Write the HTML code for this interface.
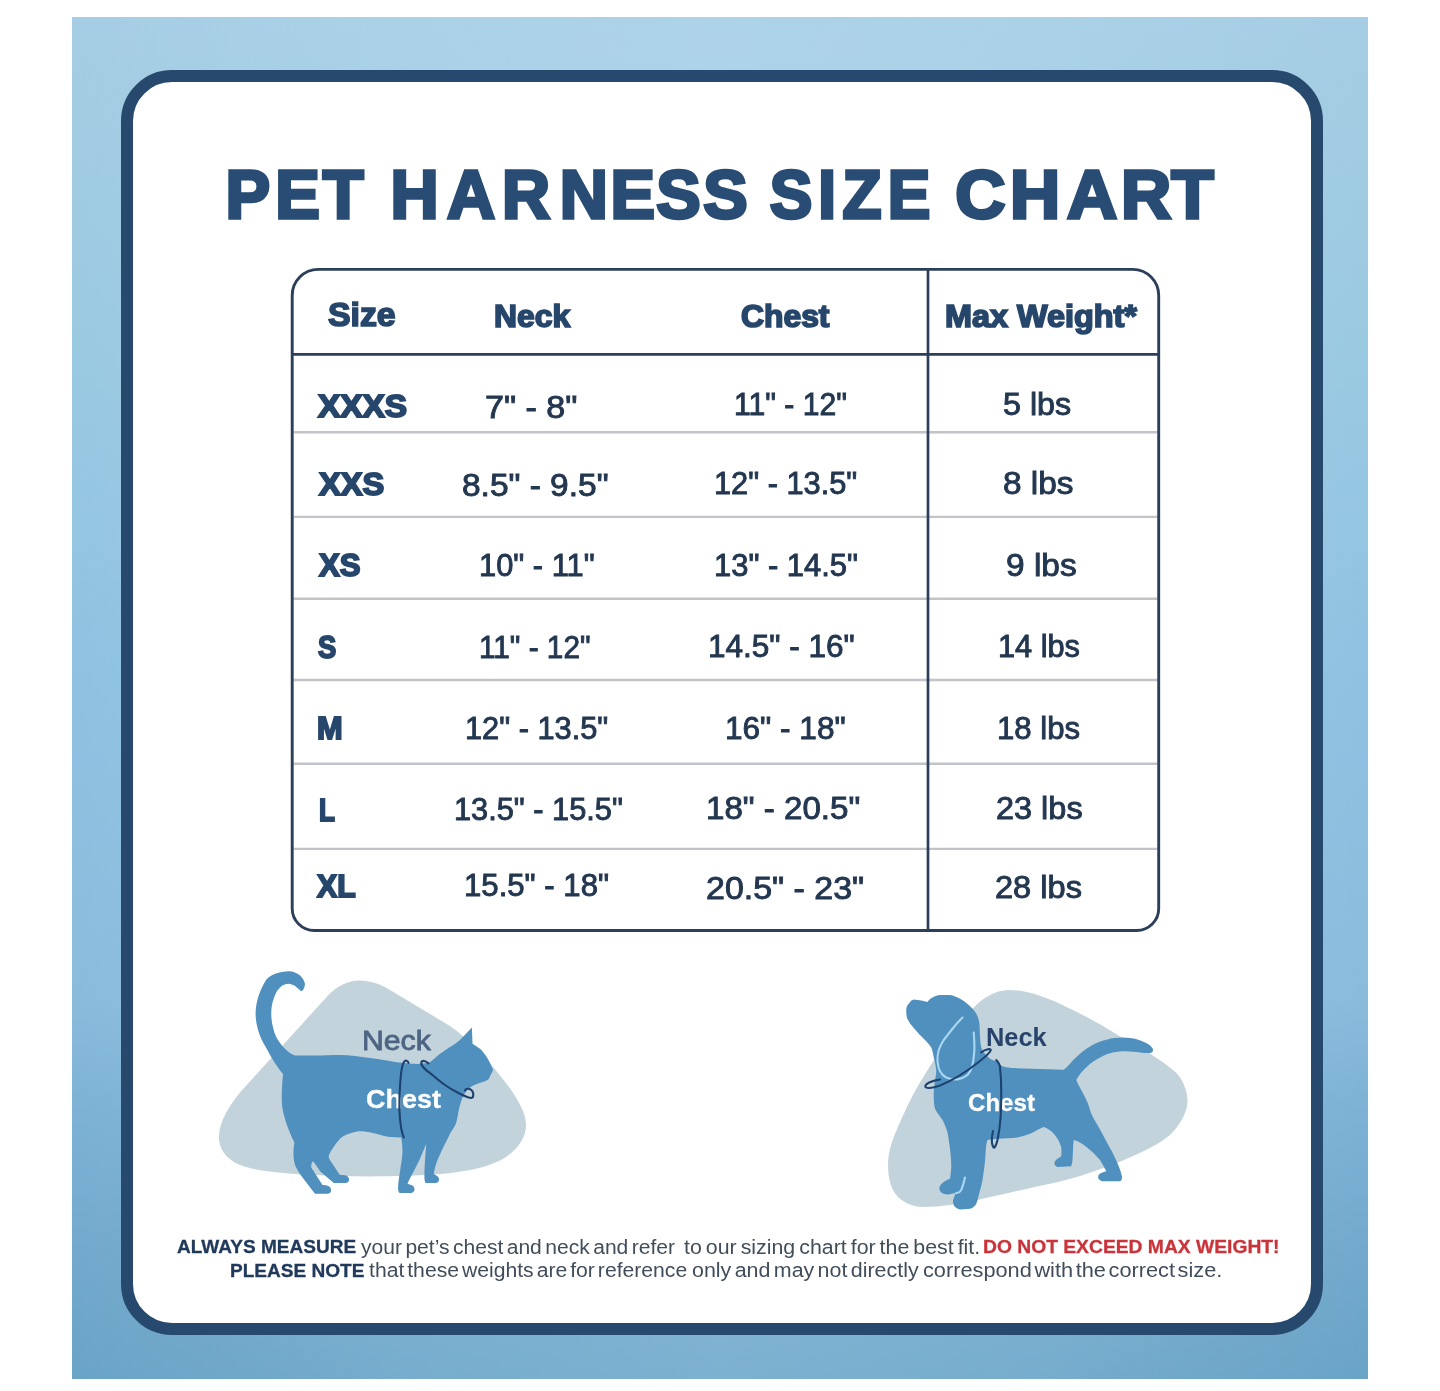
<!DOCTYPE html>
<html lang="en">
<head>
<meta charset="utf-8">
<title>Pet Harness Size Chart</title>
<style>
  html, body { margin: 0; padding: 0; background: #ffffff; }
  body { width: 1440px; height: 1391px; position: relative; overflow: hidden;
         font-family: "Liberation Sans", sans-serif; }
  .poster { position: absolute; left: 72px; top: 17px; width: 1296px; height: 1362px;
            background: linear-gradient(180deg, rgb(165,205,227) 0%, rgb(156,202,226) 20.8%, rgb(143,194,225) 48.7%, rgb(138,187,221) 72.2%, rgb(126,179,214) 79.5%, rgb(115,169,204) 90.5%, rgb(105,163,198) 100%); }
  .poster::after { content: ""; position: absolute; inset: 0;
            background: linear-gradient(90deg, rgba(215,240,255,0) 0%, rgba(215,240,255,0.12) 25%, rgba(215,240,255,0.18) 50%, rgba(215,240,255,0.12) 75%, rgba(215,240,255,0) 100%); }
  .card { position: absolute; left: 120.5px; top: 70px; width: 1202.5px; height: 1265px; box-sizing: border-box;
          border: 12px solid #27496d; border-radius: 51px; background: #ffffff; }
  .t { position: absolute; white-space: pre; transform-origin: 0 0; display: block; margin: 0; padding: 0; }
  h1 { margin: 0; font-size: inherit; font-weight: inherit; }
  svg.frame { position: absolute; left: 0; top: 0; }
  svg.art { position: absolute; left: 0; top: 0; }
</style>
</head>
<body>
<div class="poster"></div>
<main class="card"></main>

<h1>
    <svg class="art" width="1440" height="1391" viewBox="0 0 1440 1391">
    <g font-family="'Liberation Sans', sans-serif" font-weight="700" font-size="68.95" fill="#284c73" stroke="#284c73" stroke-width="3.4" stroke-linejoin="miter">
      <text transform="scale(0.9701,1)" x="232.56 283.72 332.69" y="218.3">PET</text>
      <text transform="scale(0.9658,1)" x="404.41 462.91 519.8 579.66 632.23 679.53 728.07" y="218.3">HARNESS</text>
      <text transform="scale(0.9256,1)" x="831.52 883.89 910.12 959.15" y="218.3">SIZE</text>
      <text transform="scale(1.0069,1)" x="948.62 1003.16 1059.65 1113.28 1163.11" y="218.3">CHART</text>
    </g>
  </svg>
</h1>

<section>
  <svg class="frame" width="1440" height="1391" viewBox="0 0 1440 1391">
   <g stroke="#c2c4c9" stroke-width="2.4">
    <line x1="293.4" x2="1157.5" y1="432.2" y2="432.2"/>
    <line x1="293.4" x2="1157.5" y1="516.9" y2="516.9"/>
    <line x1="293.4" x2="1157.5" y1="598.7" y2="598.7"/>
    <line x1="293.4" x2="1157.5" y1="680.0" y2="680.0"/>
    <line x1="293.4" x2="1157.5" y1="763.8" y2="763.8"/>
    <line x1="293.4" x2="1157.5" y1="848.9" y2="848.9"/>
   </g>
   <g stroke="#2c3f5a" fill="none">
    <line x1="292.2" x2="1158.7" y1="354.4" y2="354.4" stroke-width="2.8"/>
    <line x1="928" x2="928" y1="269.4" y2="930.5" stroke-width="2.7"/>
    <path d="M 318.2,269.4 H 1132.7 A 26,26 0 0 1 1158.7,295.4 V 908.5 A 22,22 0 0 1 1136.7,930.5 H 314.2 A 22,22 0 0 1 292.2,908.5 V 295.4 A 26,26 0 0 1 318.2,269.4 Z" stroke-width="2.9"/>
   </g>
  </svg>
  <div class="thead">
      <span class="t" style="left:328.02px;top:298.23px;font-size:33.53px;line-height:33.53px;font-weight:700;color:#26466b;-webkit-text-stroke:1.7px #26466b;transform:scaleX(1.0086)">Size</span>
      <span class="t" style="left:493.86px;top:301.57px;font-size:30.77px;line-height:30.77px;font-weight:700;color:#26466b;-webkit-text-stroke:1.7px #26466b;transform:scaleX(1.0344)">Neck</span>
      <span class="t" style="left:740.86px;top:301.2px;font-size:31.21px;line-height:31.21px;font-weight:700;color:#26466b;-webkit-text-stroke:1.7px #26466b;transform:scaleX(1.0202)">Chest</span>
      <span class="t" style="left:944.83px;top:301.57px;font-size:30.77px;line-height:30.77px;font-weight:700;color:#26466b;-webkit-text-stroke:1.7px #26466b;transform:scaleX(1.0527)">Max Weight*</span>
  </div>
  <div class="tbody">
    <div class="row">
      <span class="t" style="left:318.45px;top:390.66px;font-size:30.65px;line-height:30.65px;font-weight:700;color:#26466b;-webkit-text-stroke:1.9px #26466b;transform:scaleX(1.0904)">XXXS</span>
      <span class="t" style="left:484.55px;top:391.64px;font-size:31.09px;line-height:31.09px;color:#233750;-webkit-text-stroke:0.9px #233750;transform:scaleX(1.0969)">7&quot; - 8&quot;</span>
      <span class="t" style="left:733.57px;top:389.34px;font-size:31.09px;line-height:31.09px;color:#233750;-webkit-text-stroke:0.9px #233750;transform:scaleX(0.9692)">11&quot; - 12&quot;</span>
      <span class="t" style="left:1003.44px;top:389.34px;font-size:31.09px;line-height:31.09px;color:#233750;-webkit-text-stroke:0.9px #233750;transform:scaleX(1.0372)">5 lbs</span>
    </div>
    <div class="row">
      <span class="t" style="left:318.65px;top:468.96px;font-size:30.65px;line-height:30.65px;font-weight:700;color:#26466b;-webkit-text-stroke:1.9px #26466b;transform:scaleX(1.0639)">XXS</span>
      <span class="t" style="left:462.1px;top:470.34px;font-size:31.09px;line-height:31.09px;color:#233750;-webkit-text-stroke:0.9px #233750;transform:scaleX(1.0766)">8.5&quot; - 9.5&quot;</span>
      <span class="t" style="left:713.53px;top:467.94px;font-size:31.09px;line-height:31.09px;color:#233750;-webkit-text-stroke:0.9px #233750;transform:scaleX(0.9899)">12&quot; - 13.5&quot;</span>
      <span class="t" style="left:1003.41px;top:467.94px;font-size:31.09px;line-height:31.09px;color:#233750;-webkit-text-stroke:0.9px #233750;transform:scaleX(1.0733)">8 lbs</span>
    </div>
    <div class="row">
      <span class="t" style="left:318.65px;top:549.96px;font-size:30.65px;line-height:30.65px;font-weight:700;color:#26466b;-webkit-text-stroke:1.9px #26466b;transform:scaleX(1.0154)">XS</span>
      <span class="t" style="left:478.52px;top:550.34px;font-size:31.09px;line-height:31.09px;color:#233750;-webkit-text-stroke:0.9px #233750;transform:scaleX(0.9921)">10&quot; - 11&quot;</span>
      <span class="t" style="left:713.52px;top:550.34px;font-size:31.09px;line-height:31.09px;color:#233750;-webkit-text-stroke:0.9px #233750;transform:scaleX(0.9948)">13&quot; - 14.5&quot;</span>
      <span class="t" style="left:1005.58px;top:549.64px;font-size:31.09px;line-height:31.09px;color:#233750;-webkit-text-stroke:0.9px #233750;transform:scaleX(1.0768)">9 lbs</span>
    </div>
    <div class="row">
      <span class="t" style="left:318.22px;top:632.26px;font-size:30.65px;line-height:30.65px;font-weight:700;color:#26466b;-webkit-text-stroke:1.9px #26466b;transform:scaleX(0.8925)">S</span>
      <span class="t" style="left:478.59px;top:631.94px;font-size:31.09px;line-height:31.09px;color:#233750;-webkit-text-stroke:0.9px #233750;transform:scaleX(0.9568)">11&quot; - 12&quot;</span>
      <span class="t" style="left:708.48px;top:631.34px;font-size:31.09px;line-height:31.09px;color:#233750;-webkit-text-stroke:0.9px #233750;transform:scaleX(1.0132)">14.5&quot; - 16&quot;</span>
      <span class="t" style="left:997.53px;top:631.34px;font-size:31.09px;line-height:31.09px;color:#233750;-webkit-text-stroke:0.9px #233750;transform:scaleX(0.9882)">14 lbs</span>
    </div>
    <div class="row">
      <span class="t" style="left:317.33px;top:713.26px;font-size:30.65px;line-height:30.65px;font-weight:700;color:#26466b;-webkit-text-stroke:1.9px #26466b;transform:scaleX(1.0031)">M</span>
      <span class="t" style="left:465.23px;top:712.94px;font-size:31.09px;line-height:31.09px;color:#233750;-webkit-text-stroke:0.9px #233750;transform:scaleX(0.9899)">12&quot; - 13.5&quot;</span>
      <span class="t" style="left:725.18px;top:712.94px;font-size:31.09px;line-height:31.09px;color:#233750;-webkit-text-stroke:0.9px #233750;transform:scaleX(1.0156)">16&quot; - 18&quot;</span>
      <span class="t" style="left:996.81px;top:712.94px;font-size:31.09px;line-height:31.09px;color:#233750;-webkit-text-stroke:0.9px #233750;transform:scaleX(1.0007)">18 lbs</span>
    </div>
    <div class="row">
      <span class="t" style="left:318.63px;top:794.76px;font-size:30.65px;line-height:30.65px;font-weight:700;color:#26466b;-webkit-text-stroke:1.9px #26466b;transform:scaleX(0.8474)">L</span>
      <span class="t" style="left:454.23px;top:793.94px;font-size:31.09px;line-height:31.09px;color:#233750;-webkit-text-stroke:0.9px #233750;transform:scaleX(0.9895)">13.5&quot; - 15.5&quot;</span>
      <span class="t" style="left:705.68px;top:792.64px;font-size:31.09px;line-height:31.09px;color:#233750;-webkit-text-stroke:0.9px #233750;transform:scaleX(1.0655)">18&quot; - 20.5&quot;</span>
      <span class="t" style="left:996.23px;top:792.64px;font-size:31.09px;line-height:31.09px;color:#233750;-webkit-text-stroke:0.9px #233750;transform:scaleX(1.0443)">23 lbs</span>
    </div>
    <div class="row">
      <span class="t" style="left:316.95px;top:871.26px;font-size:30.65px;line-height:30.65px;font-weight:700;color:#26466b;-webkit-text-stroke:1.9px #26466b;transform:scaleX(0.9858)">XL</span>
      <span class="t" style="left:463.5px;top:870.34px;font-size:31.09px;line-height:31.09px;color:#233750;-webkit-text-stroke:0.9px #233750;transform:scaleX(1.0019)">15.5&quot; - 18&quot;</span>
      <span class="t" style="left:706.16px;top:872.94px;font-size:31.09px;line-height:31.09px;color:#233750;-webkit-text-stroke:0.9px #233750;transform:scaleX(1.0921)">20.5&quot; - 23&quot;</span>
      <span class="t" style="left:994.62px;top:871.94px;font-size:31.09px;line-height:31.09px;color:#233750;-webkit-text-stroke:0.9px #233750;transform:scaleX(1.048)">28 lbs</span>
    </div>
  </div>
</section>

<svg class="art" width="1440" height="1391" viewBox="0 0 1440 1391">
  <!-- cat -->
  <path fill="#c2d3dc" d="M 360,980.5 C 370,980.5 380,984 390,990 L 450,1026 C 470,1040 490,1062 507.5,1085 C 517,1098 526,1112 526,1125 C 526,1140 515,1152 501,1160 C 485,1168 465,1172 440,1174 C 400,1177 350,1177 312,1175 C 285,1173.5 255,1171 240,1165 C 225,1159 218,1147 219,1135 C 220,1120 230,1105 240,1092.5 L 327.5,996 C 337,986 348,980.5 360,980.5 Z"/>
  <path fill="#5090be" d="M 305,984 C 304,978 298,972 290,971.3 C 280,971 270,975 266,980 C 261,988 256,1000 255.6,1012.5 C 255.5,1022 258,1035 266,1047.5 C 271,1057 277,1067 283,1074 C 282,1085 281,1100 282.5,1108.75 C 284,1117 288,1130 294.4,1142.5 C 293,1150 293,1158 295,1165 C 297,1170 300,1174 302.5,1177.5 L 315,1193.75 L 328,1193.75 C 332,1193 332,1188 328.75,1186.25 C 326,1185 324,1185 322.5,1185 L 311.25,1167.5 C 311,1164 312,1162 313.1,1161.25 C 316,1165 318,1168 320,1171.25 L 333.75,1183.1 L 346,1183.1 C 350,1182.5 350,1177 346.25,1175.6 C 344,1175 342,1175 340,1175 C 337,1171 334.5,1167 332.5,1163.75 C 330,1160 328.5,1158 328.75,1156.25 C 329,1154 331,1151 332.5,1148.75 C 335,1145 337,1142 340,1138.75 C 343,1136 347,1134 351.25,1133.1 C 355,1131.5 359,1131 362.5,1131.25 C 367,1131.5 372,1133 376.25,1133.75 C 381,1135 386,1136.5 390,1136.9 L 401.25,1137.5 C 402,1142 402.5,1148 402.5,1152.5 C 402,1159 401,1165 400,1171.25 C 399,1178 398,1184 398.1,1188.75 C 398,1191 399,1193 400,1193.1 L 410,1193.1 C 414,1193 415,1190 414.4,1188.75 C 414,1186 412,1185 411.25,1185 L 407.5,1183.75 C 409,1180 411.5,1175.5 413.75,1171.25 C 416,1167 418,1163 420,1158.75 C 422,1154 424.5,1148 426.25,1143.75 C 426,1149 425.3,1155 425,1160 C 424.7,1166 424.4,1172 424.4,1177.5 C 424.4,1180 425,1182 425.6,1183.1 L 436,1183.1 C 440,1182.5 440,1177 436.25,1175.6 L 433.75,1173.75 C 434.5,1169 436,1164 437.5,1160 C 440,1154 442.5,1149 445,1143.75 C 447,1140 449,1136 450,1133.75 C 453,1129 455.5,1125 456.25,1122.5 C 457.5,1118 458,1114 458.75,1110 C 460,1105 461,1101 462.5,1097.5 C 464.5,1093 467,1090 470,1087.5 C 472,1086 475,1084.5 477.5,1083.75 C 481,1082.5 485,1081.5 487.5,1080 C 489,1079 489.5,1077.5 490,1076.25 L 493.1,1070 C 491,1065 489,1060.5 486.25,1056.25 C 484,1053 482,1050.5 480,1048.75 C 477.5,1047 475,1045.5 472.5,1043.75 L 471.9,1027.5 C 468,1031.5 464,1036 460,1040 C 457,1042.5 454,1044.5 451.25,1046.25 C 447.5,1048.5 443.5,1051.5 440,1053.75 C 436,1057 432.5,1060.5 428.75,1063.1 C 423,1064 417,1064 411.25,1063.75 C 406,1063 400,1062.5 395,1061.9 C 386,1060.5 378,1059 370,1058 C 360,1056.5 350,1055 340,1055 C 330,1055 320,1055.6 315,1055.6 L 295,1055.6 C 291,1054 288.5,1052 286.25,1050 C 283,1047 280.5,1044 278.75,1041.25 C 276,1037 274.5,1033.5 273.75,1030 C 272,1024 271.25,1019 271.25,1013.75 C 271.3,1008 272,1003 273.75,998.75 C 275,994 277,990.5 280,987.5 C 282.5,985 285.5,983.75 288.75,983.75 C 292,984 294.5,985.5 296.25,986.9 L 301.25,991.25 C 303,991 304.5,988 305,984 Z"/>

  <!-- dog -->
  <path fill="#c2d3dc" d="M 1009,990 C 1025,990 1045,996 1070,1008.75 C 1090,1018 1105,1027 1117.5,1035 C 1135,1045 1160,1058 1176,1072.5 C 1183,1080 1187,1090 1187.5,1100 C 1188,1112 1180,1125 1170,1135 C 1160,1144 1140,1153 1124,1160 C 1100,1170 1075,1178 1058,1182 C 1030,1188 1000,1195 977.5,1200 C 960,1204 940,1207 923.75,1207 C 910,1207 898,1200 893,1190 C 887,1178 887,1160 890,1148.75 C 893,1137 903,1115 911,1098.75 C 925,1072 950,1035 970,1012 C 980,999 995,990 1009,990 Z"/>
  <path fill="#5090be" d="M 906.25,1011.25 C 906,1007 907.5,1005 908.75,1003.75 C 910,1001.5 912,999.5 913.75,999.4 C 916,999.4 919,1000.2 921.25,1000.6 L 927.5,1001.9 C 929,1000 930.5,998.5 932.5,997.5 C 935,996 937.5,995.2 940,995 L 950,995 C 953.5,995.5 957,997 960,998.75 C 963,1000.5 966,1002.5 968.75,1005 C 971.5,1007.5 974.5,1010.5 976.25,1013.75 C 978,1016.5 979,1020 979.4,1023.75 C 979.8,1028 979.8,1032 980,1036.25 C 980.2,1040 980.5,1044 981.25,1047.5 C 982,1050 983.3,1052 985,1053.75 C 986.5,1055.5 988,1057.3 990,1058.75 C 992,1060 994,1060.5 996.25,1061.25 C 998,1063 1000,1065 1002.5,1066.25 C 1006,1067.5 1010,1068 1015,1068.1 L 1040,1069 L 1063.75,1069.75 C 1066,1068 1068,1066 1070,1063.75 C 1073,1060 1076.5,1057 1080,1053.75 C 1084,1050.5 1088,1047.5 1092.5,1045 C 1097,1042.5 1102,1040.7 1107.5,1039.4 C 1112,1038.2 1117,1037.5 1122.5,1037.5 C 1127.5,1037.5 1132.5,1038.2 1137.5,1039.4 C 1141.5,1040.5 1145.5,1042.5 1148.75,1044.4 C 1151,1046 1153,1048 1153.1,1050 C 1153,1052 1151.5,1053 1150,1053.1 C 1147,1053.2 1143,1052.8 1140,1052.5 C 1135,1052 1131,1051.3 1126.25,1051.25 C 1121,1051.3 1117,1051.7 1112.5,1052.5 C 1108,1053.5 1104,1055.3 1100,1057.5 C 1096,1059.7 1092,1062.3 1088.75,1065 C 1086,1067.3 1083.5,1070 1081.25,1072.5 C 1079.3,1075 1077.5,1077.5 1076.25,1080 C 1077.5,1083.5 1079.5,1086.7 1081.25,1090 C 1083.5,1094 1085.7,1098.3 1087.5,1102.5 C 1089,1106 1090,1110 1091.25,1113.75 C 1093,1117.5 1095.3,1121.3 1097.5,1125 C 1100,1129.5 1102.5,1134 1105,1138.75 C 1107.5,1143.3 1110,1148 1112.5,1152.5 C 1114.7,1157 1116.8,1161.7 1118.75,1166.25 C 1120,1169.5 1121.3,1173 1121.9,1176.25 C 1122.3,1178.5 1121.5,1180.5 1120,1181.25 L 1102.5,1181.25 C 1100,1180.5 1098.2,1179 1098.1,1176.9 C 1098.2,1175 1099.7,1173.8 1101.25,1173.1 C 1102.8,1172.3 1104.7,1171.8 1106.25,1171.25 C 1104.3,1167.5 1102.2,1163.5 1100,1160 C 1097,1156.5 1093.5,1153 1090,1150 C 1087,1147.3 1083.5,1144.5 1080,1142.5 C 1078,1141.3 1075.8,1140.5 1073.75,1140 C 1073.3,1142.5 1073.2,1145 1073.1,1147.5 C 1072.9,1151.5 1072.7,1156 1072.5,1160 C 1072.3,1162.2 1071.8,1164.5 1071.25,1166.25 L 1057.5,1166.9 C 1055.5,1166.3 1054.3,1164.8 1054.4,1163.1 C 1054.6,1161.3 1056,1159.8 1057.5,1158.75 C 1058.7,1157.8 1060,1157 1061.25,1156.25 C 1061.5,1153.5 1061.5,1150.5 1061.25,1147.5 C 1060.5,1144.3 1059.2,1141.3 1057.5,1138.75 C 1055.8,1136 1053.7,1133.3 1051.25,1131.25 C 1049,1129.3 1046.3,1127.7 1043.75,1126.9 C 1040,1128 1035,1131.5 1030,1133.75 C 1025,1135.5 1021,1136.8 1017.5,1137.5 C 1011,1138.3 1004,1138.5 998.75,1138.75 C 995,1139 991,1139.3 987.5,1140 C 987,1141.5 986.5,1143.3 986.25,1145 C 985.8,1150 985.4,1156 985,1161.25 C 984.3,1167.5 983.5,1174 982.5,1180 C 981.5,1185 980.3,1190 978.75,1195 C 978,1198.5 977.3,1201.5 976.25,1203.75 C 974.7,1206.5 972.5,1208.3 970,1208.75 L 960,1209.4 C 957,1208.7 954.5,1207 953.75,1205 C 953,1203.3 952.8,1201.5 953.1,1200 C 954,1197.3 955,1194.8 956.25,1192.5 C 953.5,1193.5 950.5,1194.3 947.5,1194.4 C 945,1194.3 942.7,1193.7 941.25,1192.5 C 939.7,1191 939.2,1189.2 939.4,1187.5 C 939.8,1185.3 941.7,1183.3 943.75,1181.9 C 945.7,1180.5 948,1179.5 950,1178.75 C 950.7,1175 951,1171.3 951.25,1167.5 C 951.3,1161 950.7,1154.5 950,1148.75 C 949.3,1143.5 948.5,1137.7 947.5,1132.5 C 946.3,1128 944.5,1123.8 942.5,1120 C 940,1116.3 937,1112.7 935,1108.75 C 933.8,1103.5 933.6,1098 933.75,1092.5 C 934,1088 934.6,1084 935,1080 C 935.7,1076.7 936.3,1073.3 936.25,1070 C 935.8,1066 934.8,1061.5 933.75,1057.5 C 933.2,1054 932.4,1050.5 931.25,1047.5 C 929.8,1045.2 928,1043.2 926.25,1041.25 L 918.75,1033.75 L 911.25,1025 C 909.5,1022.7 907.8,1020 906.9,1017.5 C 906.4,1015.5 906.2,1013.3 906.25,1011.25 Z"/>
  <g fill="none" stroke="#a9d7f2" stroke-width="2.1" stroke-linecap="round">
    <path d="M 962.5,1017.5 C 959,1021 955.5,1025 952.5,1028.75 C 949.5,1032.5 946.5,1036.3 943.75,1040 C 941.7,1043.3 940,1046.7 938.75,1050 C 937.7,1053.7 937.3,1057.5 937.5,1061.25 C 937.8,1065 938.6,1068.5 940,1071.25 C 941.5,1074 943.7,1076.2 946.25,1077.5 C 949.7,1079 953.7,1079.7 957.5,1079.4 C 961.3,1078.7 964.8,1077.2 967.5,1075 C 970,1072.3 971.7,1068.8 972.5,1065 C 973.6,1060 974.1,1055 974.4,1050 C 974.5,1044 974.2,1038 973.75,1032.5"/>
    <path d="M 965,1177.5 C 964,1182 962.7,1186.5 961.25,1190 C 960,1192 958,1193 956.25,1193"/>
  </g>
</svg>

<div class="labels">
  <span class="t" style="left:361.64px;top:1027.43px;font-size:27.44px;line-height:27.44px;color:#4c6583;-webkit-text-stroke:0.8px #4c6583;transform:scaleX(1.1002)">Neck</span>
  <span class="t" style="left:366.31px;top:1087.05px;font-size:25.92px;line-height:25.92px;font-weight:700;color:#ffffff;-webkit-text-stroke:0.3px #ffffff;transform:scaleX(1.0406)">Chest</span>
  <span class="t" style="left:985.91px;top:1024.38px;font-size:26.6px;line-height:26.6px;font-weight:700;color:#28446c;transform:scaleX(0.955)">Neck</span>
  <span class="t" style="left:968.0px;top:1090.67px;font-size:23.88px;line-height:23.88px;font-weight:700;color:#ffffff;-webkit-text-stroke:0.3px #ffffff;transform:scaleX(1.0094)">Chest</span>
</div>

<svg class="art" width="1440" height="1391" viewBox="0 0 1440 1391">
  <g fill="none" stroke="#1d426f" stroke-width="2.1" stroke-linecap="round">
    <path d="M 408.5,1063 C 408,1061 406,1060 404.5,1061.2 C 402.5,1063 401.2,1070 400.4,1080 C 399.4,1092 399.2,1101 399.4,1110 C 399.7,1117 400.3,1123 401.25,1128.75 C 402,1132 402.8,1135 403.75,1137.5"/>
    <path d="M 428.5,1063.5 C 426,1060.5 422,1060 421.25,1062.5 C 421,1067 427,1071 432.5,1075 C 436.5,1078.5 440.5,1082 445,1085 C 449,1087.8 453,1090.3 457.5,1092.5 C 461,1094.3 465,1096.3 468.75,1097.5 C 471.5,1098.2 473.3,1097.8 473.1,1096.25 C 473.5,1094.5 473.2,1092.7 472.5,1091.25 C 471.5,1089.8 470,1089 468.75,1088.75 C 467,1088.5 465.5,1089.3 465,1090.5"/>
  </g>
  <g fill="none" stroke="#1d426f" stroke-width="2.1" stroke-linecap="round">
    <path d="M 940,1079.5 C 934,1080.5 926,1083 925.3,1086 C 925,1089 932,1088.5 940,1085.5 C 950,1081.5 965,1073 980,1061 C 985,1057 990,1053 990.8,1050.3 C 991,1048.2 986,1048.8 981,1052.5"/>
    <path d="M 996.25,1060 C 999,1063 1000,1065 1000,1067.5 C 1001,1076 1001.3,1084 1001.25,1092.5 C 1001.3,1101 1001,1109 1000.6,1117.5 C 1000,1125 999,1133 997.5,1140 C 996.8,1143 995.8,1146 994.4,1147.5 C 993.3,1148 992.5,1146 991.9,1142.5 C 991.5,1139 992,1135 993,1131"/>
  </g>
</svg>

<footer>
  <p style="margin:0">
      <span class="t" style="left:177.15px;top:1238.25px;font-size:18.94px;line-height:18.94px;font-weight:700;color:#213a5c;-webkit-text-stroke:0.3px #213a5c;transform:scaleX(1.0056)">ALWAYS MEASURE</span>
      <span class="t" style="left:361.0px;top:1237.94px;font-size:19.33px;line-height:19.33px;color:#414d5a;word-spacing:-2.21px;transform:scaleX(1.0893)">your pet’s chest and neck and refer</span>
      <span class="t" style="left:684.0px;top:1237.94px;font-size:19.33px;line-height:19.33px;color:#414d5a;word-spacing:-1.751px;transform:scaleX(1.1046)">to our sizing chart for the best fit.</span>
      <span class="t" style="left:983.25px;top:1238.25px;font-size:18.94px;line-height:18.94px;font-weight:700;color:#c9343b;-webkit-text-stroke:0.3px #c9343b;transform:scaleX(1.0173)">DO NOT EXCEED MAX WEIGHT!</span>
  </p>
  <p style="margin:0">
      <span class="t" style="left:229.96px;top:1261.55px;font-size:18.94px;line-height:18.94px;font-weight:700;color:#213a5c;-webkit-text-stroke:0.3px #213a5c;transform:scaleX(1.0056)">PLEASE NOTE</span>
      <span class="t" style="left:369.3px;top:1261.24px;font-size:19.33px;line-height:19.33px;color:#414d5a;word-spacing:-2.668px;transform:scaleX(1.0946)">that these weights are for reference</span>
      <span class="t" style="left:691.63px;top:1261.24px;font-size:19.33px;line-height:19.33px;color:#414d5a;word-spacing:-2.344px;transform:scaleX(1.1087)">only and may not directly</span>
      <span class="t" style="left:922.62px;top:1261.24px;font-size:19.33px;line-height:19.33px;color:#414d5a;word-spacing:-3.034px;transform:scaleX(1.1248)">correspond with the correct size.</span>
  </p>
</footer>
</body>
</html>
